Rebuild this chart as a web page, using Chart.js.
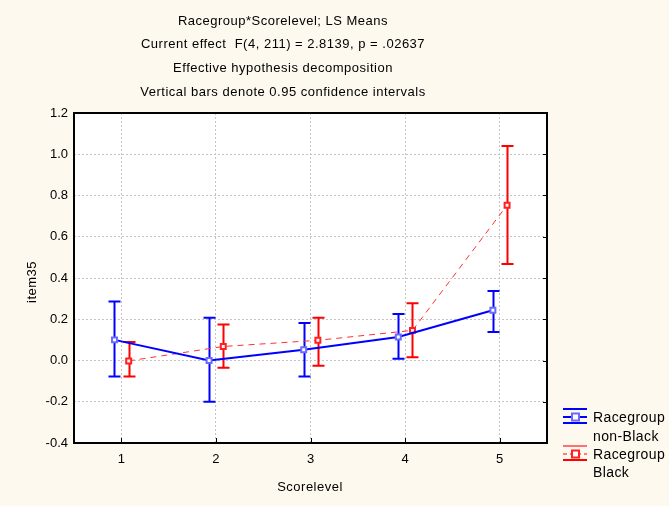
<!DOCTYPE html>
<html lang="en">
<head>
  <meta charset="UTF-8">
  <title>Racegroup*Scorelevel; LS Means</title>
  <script src="https://cdn.jsdelivr.net/npm/chart.js"></script>
  <style>
    body { margin: 0; background: #fdf9ee; }
    canvas { display: block; }
  </style>
</head>
<body>
<canvas id="chart" width="669" height="506"></canvas>
<script>
const categories = [1, 2, 3, 4, 5];
const yTicks = [-0.4, -0.2, 0, 0.2, 0.4, 0.6, 0.8, 1.0, 1.2];

// non-Black: LS means and 95% CI
const nonBlackMean = [0.100, 0.000, 0.052, 0.114, 0.244];
const nonBlackLow  = [-0.078, -0.200, -0.078, 0.008, 0.138];
const nonBlackHigh = [0.286, 0.207, 0.182, 0.226, 0.337];

// Black: LS means and 95% CI
const blackMean = [-0.002, 0.068, 0.098, 0.146, 0.753];
const blackLow  = [-0.078, -0.035, -0.026, 0.016, 0.468];
const blackHigh = [0.090, 0.175, 0.207, 0.278, 1.040];

// small horizontal shift so the two groups don't overlap
const nonBlackShift = -0.072;
const blackShift = 0.078;

const titleLines = [
  "Racegroup*Scorelevel; LS Means",
  "Current effect  F(4, 211) = 2.8139, p = .02637",
  "Effective hypothesis decomposition",
  "Vertical bars denote 0.95 confidence intervals"
];

const BLUE = "#0000ff";
const RED = "#ff0000";
const FONT = "Liberation Sans, Arial, sans-serif";

function pts(means, shift) {
  return categories.map((c, i) => ({ x: c + shift, y: means[i] }));
}

const groups = [
  { low: nonBlackLow, high: nonBlackHigh, shift: nonBlackShift, color: BLUE },
  { low: blackLow, high: blackHigh, shift: blackShift, color: RED }
];

const decorPlugin = {
  id: "decor",
  beforeDraw(chart) {
    const { ctx, chartArea: a } = chart;
    ctx.save();
    ctx.fillStyle = "#fdf9ee";
    ctx.fillRect(0, 0, chart.width, chart.height);
    ctx.fillStyle = "#ffffff";
    ctx.fillRect(a.left, a.top, a.right - a.left, a.bottom - a.top);
    ctx.restore();
  },
  beforeDatasetsDraw(chart) {
    const { ctx } = chart;
    const xs = chart.scales.x, ys = chart.scales.y;
    ctx.save();
    ctx.lineWidth = 2;
    groups.forEach(g => {
      ctx.strokeStyle = g.color;
      categories.forEach((c, i) => {
        const px = Math.round(xs.getPixelForValue(c + g.shift)) + 0.5;
        const y1 = ys.getPixelForValue(g.low[i]);
        const y2 = ys.getPixelForValue(g.high[i]);
        ctx.beginPath();
        ctx.moveTo(px, y1); ctx.lineTo(px, y2);
        ctx.moveTo(px - 6, y1); ctx.lineTo(px + 6, y1);
        ctx.moveTo(px - 6, y2); ctx.lineTo(px + 6, y2);
        ctx.stroke();
      });
    });
    ctx.restore();
  },
  afterDraw(chart) {
    const { ctx, chartArea: a } = chart;
    const xs = chart.scales.x, ys = chart.scales.y;
    ctx.save();

    // frame and inward ticks
    ctx.strokeStyle = "#000";
    ctx.lineWidth = 2;
    ctx.strokeRect(a.left, a.top, a.right - a.left, a.bottom - a.top);
    ctx.lineWidth = 1;
    ctx.beginPath();
    categories.forEach(c => {
      const px = Math.round(xs.getPixelForValue(c)) + 0.5;
      ctx.moveTo(px, a.bottom); ctx.lineTo(px, a.bottom - 5);
    });
    yTicks.forEach(v => {
      const py = Math.round(ys.getPixelForValue(v)) + 0.5;
      ctx.moveTo(a.right, py); ctx.lineTo(a.right - 4, py);
    });
    ctx.stroke();

    // titles
    ctx.fillStyle = "#000";
    ctx.font = "13px " + FONT;
    ctx.letterSpacing = "0.5px";
    ctx.textAlign = "center";
    ctx.textBaseline = "middle";
    titleLines.forEach((t, i) => ctx.fillText(t, 283, 21 + i * 23.7));

    ctx.fillText("Scorelevel", 310, 487);
    ctx.save();
    ctx.translate(32, 282);
    ctx.rotate(-Math.PI / 2);
    ctx.fillText("item35", 0, 0);
    ctx.restore();

    // legend
    ctx.textAlign = "left";
    ctx.font = "14px " + FONT;
    ctx.letterSpacing = "0.4px";
    ctx.fillText("Racegroup", 593, 418);
    ctx.fillText("non-Black", 593, 437);
    ctx.fillText("Racegroup", 593, 455);
    ctx.fillText("Black", 593, 473);
    ctx.letterSpacing = "0px";

    const icon = (cy, color, light, dashed) => {
      ctx.lineWidth = 2;
      ctx.strokeStyle = light;
      ctx.beginPath();
      ctx.moveTo(563, cy - 8); ctx.lineTo(587, cy - 8);
      ctx.stroke();
      ctx.strokeStyle = color;
      ctx.beginPath();
      ctx.moveTo(563, cy + 6); ctx.lineTo(587, cy + 6);
      ctx.stroke();
      ctx.setLineDash(dashed ? [4, 3] : []);
      ctx.lineWidth = dashed ? 1 : 2;
      ctx.beginPath();
      ctx.moveTo(563, cy); ctx.lineTo(587, cy);
      ctx.stroke();
      ctx.setLineDash([]);
      ctx.lineWidth = 2;
      ctx.fillStyle = "#fff";
      ctx.fillRect(572, cy - 3.5, 7, 7);
      ctx.strokeStyle = dashed ? "#ff2020" : "#6a6aff";
      ctx.strokeRect(572, cy - 3.5, 7, 7);
      ctx.fillStyle = "#000";
    };
    icon(417, BLUE, BLUE, false);
    icon(454, RED, "#ff7070", true);

    ctx.restore();
  }
};

new Chart(document.getElementById("chart"), {
  type: "line",
  data: {
    datasets: [
      {
        label: "Racegroup non-Black",
        data: pts(nonBlackMean, nonBlackShift),
        borderColor: BLUE,
        borderWidth: 2,
        pointStyle: "rect",
        pointRadius: 3.5,
        pointBorderWidth: 2,
        pointBorderColor: "#6a6aff",
        pointBackgroundColor: "#ffffff",
        tension: 0
      },
      {
        label: "Racegroup Black",
        data: pts(blackMean, blackShift),
        borderColor: "#ff3030",
        borderWidth: 1,
        borderDash: [6, 5],
        pointStyle: "rect",
        pointRadius: 3.5,
        pointBorderWidth: 2,
        pointBorderColor: "#ff2020",
        pointBackgroundColor: "#fff4f4",
        tension: 0
      }
    ]
  },
  options: {
    responsive: false,
    animation: false,
    layout: { padding: { top: 113, right: 122, left: 0, bottom: 0 } },
    plugins: {
      legend: { display: false },
      title: { display: false },
      tooltip: { enabled: false }
    },
    scales: {
      x: {
        type: "linear",
        min: 0.5,
        max: 5.5,
        afterBuildTicks: s => { s.ticks = categories.map(v => ({ value: v })); },
        afterFit: s => { s.height = 63; },
        ticks: { color: "#000", font: { family: FONT, size: 13 }, padding: 9 },
        grid: { color: "#c4c4c4", lineWidth: 1, drawTicks: false },
        border: { display: false, dash: [2, 2] }
      },
      y: {
        min: -0.4,
        max: 1.2,
        afterBuildTicks: s => { s.ticks = yTicks.map(v => ({ value: v })); },
        afterFit: s => { s.width = 74; },
        ticks: {
          color: "#000",
          font: { family: FONT, size: 13 },
          padding: 6,
          callback: v => v.toFixed(1)
        },
        grid: { color: "#c4c4c4", lineWidth: 1, drawTicks: false },
        border: { display: false, dash: [2, 2] }
      }
    }
  },
  plugins: [decorPlugin]
});
</script>
</body>
</html>
